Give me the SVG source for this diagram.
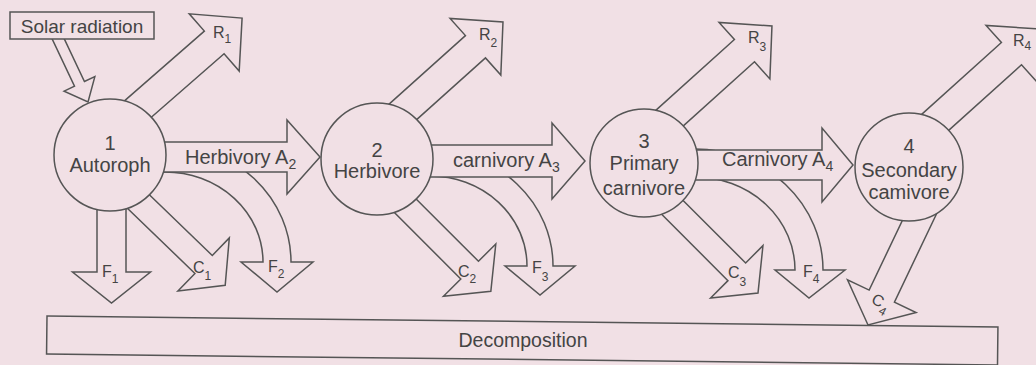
<svg xmlns="http://www.w3.org/2000/svg" width="1036" height="365" viewBox="0 0 1036 365">
<style>
.bg{fill:#f1e0e5}
.sh{fill:#f1e0e5;stroke:#555;stroke-width:1.5;stroke-linejoin:miter}
.t{font-family:"Liberation Sans",Arial,sans-serif;fill:#444}
.big{font-size:20px}
.sm{font-size:16px}
.sub{font-size:12px}
.sub2{font-size:14px}
</style>
<rect class="bg" x="0" y="0" width="1036" height="365"/>
<g id="connectors">
  <!-- curved F arrows -->
  <path class="sh" d="M150,144 L165,144 A126,118 0 0 1 291,262 L313,262 L277,292 L241,262 L263,262 A98,90 0 0 0 165,172 L150,172 Z"/>
  <path class="sh" d="M415,150 L430,150 A123,116 0 0 1 553,266 L575,266 L540,295 L505,266 L527,266 A97,90 0 0 0 430,176 L415,176 Z"/>
  <path class="sh" d="M680,149 L695,149 A128,121 0 0 1 823,270 L845,270 L809,298 L775,270 L795,270 A100,93 0 0 0 695,177 L680,177 Z"/>
  <!-- A arrows -->
  <polygon class="sh" points="150,142 287,142 287,120 320,157 287,194 287,172 150,172"/>
  <polygon class="sh" points="420,145 552,145 552,123 585,161 552,199 552,177 420,177"/>
  <polygon class="sh" points="690,150 822,150 822,128 853,165 822,202 822,180 690,180"/>
  <!-- R arrows -->
  <polygon class="sh" transform="translate(127.7,117.9) rotate(-41.1)" points="0,-15 114.8,-15 114.8,-38 151.8,0 114.8,38 114.8,15 0,15"/>
  <polygon class="sh" transform="translate(393.8,120) rotate(-41.9)" points="0,-15 109.7,-15 109.7,-38 146.7,0 109.7,38 109.7,15 0,15"/>
  <polygon class="sh" transform="translate(661.9,125) rotate(-42)" points="0,-15 111.1,-15 111.1,-38 148.1,0 111.1,38 111.1,15 0,15"/>
  <polygon class="sh" transform="translate(928.9,128) rotate(-42)" points="0,-15 111.1,-15 111.1,-38 148.1,0 111.1,38 111.1,15 0,15"/>
  <!-- C arrows -->
  <polygon class="sh" transform="translate(132.4,195.7) rotate(44)" points="0,-12.5 99,-12.5 99,-37 129,0 99,37 99,12.5 0,12.5"/>
  <polygon class="sh" transform="translate(397.5,198) rotate(45)" points="0,-12.5 102,-12.5 102,-37 132,0 102,37 102,12.5 0,12.5"/>
  <polygon class="sh" transform="translate(667.5,202.5) rotate(45)" points="0,-12.5 98,-12.5 98,-37 128,0 98,37 98,12.5 0,12.5"/>
  <polygon class="sh" transform="translate(924.2,207.2) rotate(115.5)" points="0,-14 98.5,-14 98.5,-38 130.5,0 98.5,38 98.5,14 0,14"/>
  <!-- F1 -->
  <polygon class="sh" transform="translate(111.5,185) rotate(90)" points="0,-14.5 87,-14.5 87,-39 118,0 87,39 87,14.5 0,14.5"/>
  <!-- solar input -->
  <polygon class="sh" transform="translate(54,30) rotate(64.7)" points="0,-5.5 59.6,-5.5 59.6,-17 79.6,0 59.6,17 59.6,5.5 0,5.5"/>
</g>
<g id="solar">
  <rect class="sh" x="10" y="12" width="144" height="27"/>
  <text class="t" x="82" y="33" font-size="19" text-anchor="middle">Solar radiation</text>
</g>
<g id="node1">
  <circle class="sh" cx="110" cy="155" r="56"/>
  <text class="t big" x="110" y="150" text-anchor="middle">1</text>
  <text class="t big" x="110" y="172" text-anchor="middle">Autoroph</text>
</g>
<g id="node2">
  <circle class="sh" cx="377" cy="159" r="56"/>
  <text class="t big" x="377" y="157" text-anchor="middle">2</text>
  <text class="t big" x="377" y="178" text-anchor="middle">Herbivore</text>
</g>
<g id="node3">
  <circle class="sh" cx="644" cy="163" r="54"/>
  <text class="t big" x="644" y="148" text-anchor="middle">3</text>
  <text class="t big" x="644" y="170" text-anchor="middle">Primary</text>
  <text class="t big" x="644" y="195" text-anchor="middle">carnivore</text>
</g>
<g id="node4">
  <circle class="sh" cx="909" cy="167" r="54"/>
  <text class="t big" x="909" y="153" text-anchor="middle">4</text>
  <text class="t big" x="909" y="177" text-anchor="middle">Secondary</text>
  <text class="t big" x="909" y="199" text-anchor="middle">camivore</text>
</g>
<g id="decomposition">
  <rect class="sh" x="47" y="316" width="951" height="38" transform="rotate(0.66 47 316)"/>
  <text class="t" x="523" y="347" font-size="19.5" text-anchor="middle">Decomposition</text>
</g>
<g id="labels">
  <text class="t big" x="185" y="164">Herbivory A<tspan class="sub2" dy="5">2</tspan></text>
  <text class="t big" x="453" y="167">carnivory A<tspan class="sub2" dy="5">3</tspan></text>
  <text class="t big" x="722" y="166">Carnivory A<tspan class="sub2" dy="5">4</tspan></text>
  <text class="t sm" x="213" y="38">R<tspan class="sub" dy="5">1</tspan></text>
  <text class="t sm" x="479" y="40">R<tspan class="sub" dy="7">2</tspan></text>
  <text class="t sm" x="748" y="43">R<tspan class="sub" dy="8">3</tspan></text>
  <text class="t sm" x="1013" y="46">R<tspan class="sub" dy="4">4</tspan></text>
  <text class="t sm" x="193" y="273">C<tspan class="sub" dy="7">1</tspan></text>
  <text class="t sm" x="458" y="277">C<tspan class="sub" dy="6">2</tspan></text>
  <text class="t sm" x="728" y="278">C<tspan class="sub" dy="8">3</tspan></text>
  <text class="t sm" x="872" y="306" transform="rotate(28 878 301)">C<tspan class="sub" dy="6">4</tspan></text>
  <text class="t sm" x="102" y="277">F<tspan class="sub" dy="6">1</tspan></text>
  <text class="t sm" x="268" y="272">F<tspan class="sub" dy="6">2</tspan></text>
  <text class="t sm" x="532" y="273">F<tspan class="sub" dy="8">3</tspan></text>
  <text class="t sm" x="803" y="277">F<tspan class="sub" dy="6">4</tspan></text>
</g>
</svg>
